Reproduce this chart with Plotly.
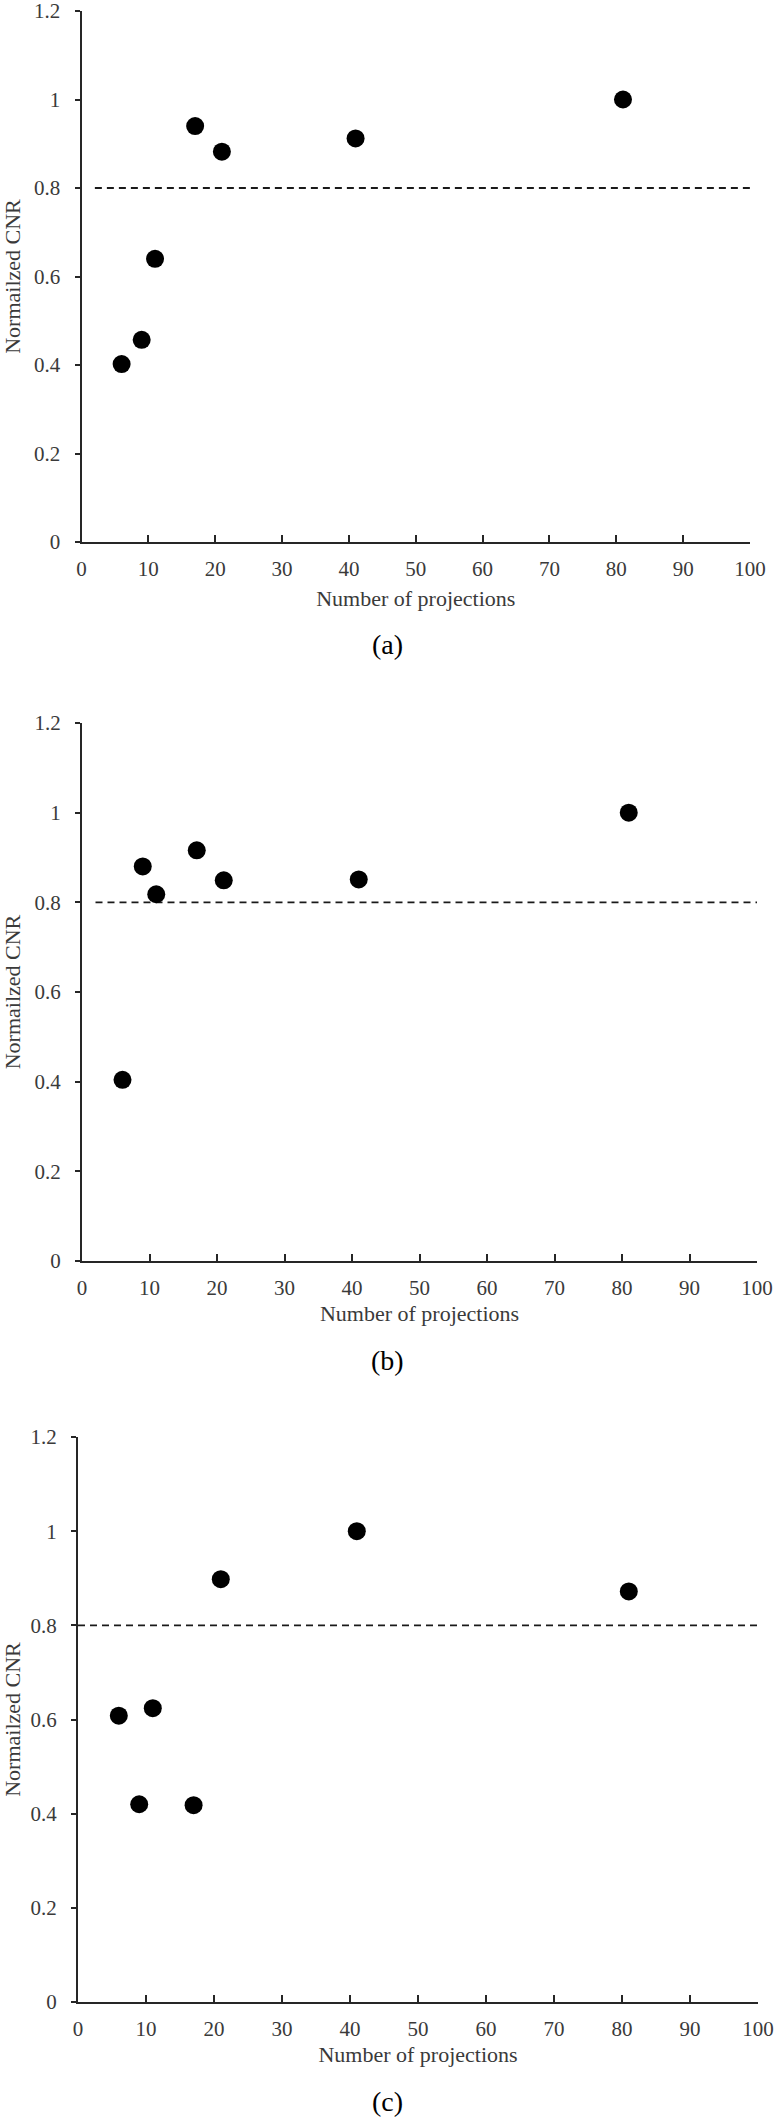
import plotly.graph_objects as go

# Number of projections (shared by all three panels)
projections = [6, 9, 11, 17, 21, 41, 81]

# Normalized CNR
cnr_a = [0.402, 0.457, 0.640, 0.940, 0.882, 0.912, 1.0]
cnr_b = [0.404, 0.880, 0.818, 0.916, 0.849, 0.851, 1.0]
cnr_c = [0.608, 0.420, 0.624, 0.418, 0.898, 1.0, 0.872]

panel_labels = ['(a)', '(b)', '(c)']
threshold = 0.8
threshold_start = [2, 2, 0]

x_ticks = list(range(0, 101, 10))
y_ticks = [0, 0.2, 0.4, 0.6, 0.8, 1.0, 1.2]
y_ticktext = ['0', '0.2', '0.4', '0.6', '0.8', '1', '1.2']

W, H = 776, 2120
FONT = 'Liberation Serif'
AXIS_COLOR = '#262626'
TEXT_COLOR = '#3a3a3a'

# plot boxes in pixels: left, right, top (y=1.2), bottom (y=0)
boxes = [
    (81.5, 750, 11, 542),
    (82, 757, 723, 1261),
    (78, 758, 1437, 2002),
]
# centre of the "(a)" style captions in pixels
caption_pos = [(387, 644), (387, 1360), (387, 2101)]
title_standoff = [10, 6, 6]

fig = go.Figure()

for i, cnr in enumerate([cnr_a, cnr_b, cnr_c]):
    n = '' if i == 0 else str(i + 1)
    xa, ya = 'x' + n, 'y' + n

    fig.add_trace(go.Scatter(
        x=[threshold_start[i], 100], y=[threshold, threshold],
        mode='lines', xaxis=xa, yaxis=ya,
        line=dict(color='#1a1a1a', width=1.8, dash='7px,5px'),
        showlegend=False, hoverinfo='skip'
    ))
    fig.add_trace(go.Scatter(
        x=projections, y=cnr, mode='markers', xaxis=xa, yaxis=ya,
        marker=dict(color='black', size=18),
        cliponaxis=False, showlegend=False
    ))

    left, right, top, bottom = boxes[i]
    axis_common = dict(
        showgrid=False, zeroline=False,
        showline=True, linecolor=AXIS_COLOR, linewidth=2,
        ticks='outside', tickcolor=AXIS_COLOR, tickwidth=2,
        tickfont=dict(family=FONT, size=21, color=TEXT_COLOR),
        ticklabeloverflow='allow',
        automargin=False,
    )
    fig.update_layout(**{
        'xaxis' + n: dict(
            axis_common,
            domain=[left / W, right / W],
            anchor=ya, range=[0, 100],
            tickvals=x_ticks, ticks='inside', ticklen=7,
            ticklabelstandoff=7,
            title=dict(text='Number of projections', standoff=title_standoff[i],
                       font=dict(family=FONT, size=22, color=TEXT_COLOR)),
        ),
        'yaxis' + n: dict(
            axis_common,
            domain=[1 - bottom / H, 1 - top / H],
            anchor=xa, range=[0, 1.2],
            tickvals=y_ticks, ticktext=y_ticktext, ticklen=5,
            ticklabelstandoff=10,
            title=dict(text='Normailzed CNR', standoff=10,
                       font=dict(family=FONT, size=22, color=TEXT_COLOR)),
        ),
    })

    cx, cy = caption_pos[i]
    fig.add_annotation(
        text=panel_labels[i], xref='paper', yref='paper',
        x=cx / W, y=1 - cy / H, xanchor='center', yanchor='middle',
        showarrow=False, font=dict(family=FONT, size=28, color='black')
    )

fig.update_layout(
    width=W, height=H,
    margin=dict(l=0, r=0, t=0, b=0),
    paper_bgcolor='white', plot_bgcolor='white',
    font=dict(family=FONT, color=TEXT_COLOR),
)

# drop the default page margin so the figure sits at the window corner
fig.write_html(
    "out.html",
    config={'displayModeBar': False},
    post_script="document.body.style.margin='0';"
                "document.body.style.overflow='hidden';"
)
